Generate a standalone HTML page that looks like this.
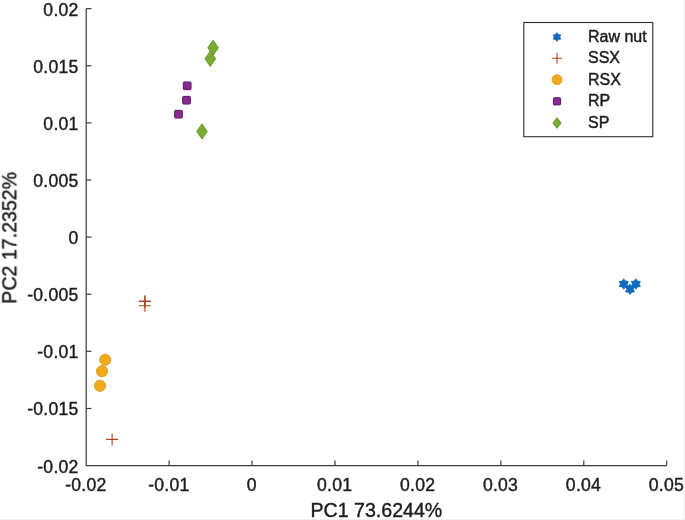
<!DOCTYPE html>
<html><head><meta charset="utf-8"><title>PCA</title>
<style>
html,body{margin:0;padding:0;background:#fff;}
body{width:685px;height:520px;overflow:hidden;position:relative;}
svg{position:absolute;left:0;top:0;display:block;}
text{font-family:"Liberation Sans",Arial,Helvetica,sans-serif;fill:#1c1c1c;stroke:#1c1c1c;stroke-width:0.4px;}
.tk{font-size:17.6px;letter-spacing:0.25px;}
.lb{font-size:19.6px;}
.lg{font-size:16px;stroke-width:0.45px;}
</style></head><body>
<svg width="685" height="520" viewBox="0 0 685 520">
<rect x="0" y="0" width="685" height="520" fill="#ffffff"/>
<defs><filter id="soft" x="-5%" y="-5%" width="110%" height="110%"><feGaussianBlur stdDeviation="0.38"/></filter></defs>
<rect x="683.6" y="0" width="1.4" height="520" fill="#f1f1f1"/>
<rect x="0" y="519" width="685" height="1" fill="#f0f0f0"/>

<g filter="url(#soft)">
<g stroke="#3a3a3a" stroke-width="1.2" fill="none">
<path d="M86.2 8.6 V465.6 H666.7"/>
<path d="M86.2 8.60 h5.2"/>
<path d="M86.2 65.72 h5.2"/>
<path d="M86.2 122.85 h5.2"/>
<path d="M86.2 179.97 h5.2"/>
<path d="M86.2 237.10 h5.2"/>
<path d="M86.2 294.23 h5.2"/>
<path d="M86.2 351.35 h5.2"/>
<path d="M86.2 408.48 h5.2"/>
<path d="M169.13 465.6 v-5.2"/>
<path d="M252.06 465.6 v-5.2"/>
<path d="M334.99 465.6 v-5.2"/>
<path d="M417.91 465.6 v-5.2"/>
<path d="M500.84 465.6 v-5.2"/>
<path d="M583.77 465.6 v-5.2"/>
<path d="M666.70 465.6 v-5.2"/>
</g>
<text class="tk" x="78.6" y="15.60" text-anchor="end">0.02</text>
<text class="tk" x="78.6" y="72.72" text-anchor="end">0.015</text>
<text class="tk" x="78.6" y="129.85" text-anchor="end">0.01</text>
<text class="tk" x="78.6" y="186.97" text-anchor="end">0.005</text>
<text class="tk" x="78.6" y="244.10" text-anchor="end">0</text>
<text class="tk" x="78.6" y="301.23" text-anchor="end">-0.005</text>
<text class="tk" x="78.6" y="358.35" text-anchor="end">-0.01</text>
<text class="tk" x="78.6" y="415.48" text-anchor="end">-0.015</text>
<text class="tk" x="78.6" y="472.60" text-anchor="end">-0.02</text>
<text class="tk" x="85.90" y="490.6" text-anchor="middle">-0.02</text>
<text class="tk" x="168.83" y="490.6" text-anchor="middle">-0.01</text>
<text class="tk" x="251.76" y="490.6" text-anchor="middle">0</text>
<text class="tk" x="334.69" y="490.6" text-anchor="middle">0.01</text>
<text class="tk" x="417.61" y="490.6" text-anchor="middle">0.02</text>
<text class="tk" x="500.54" y="490.6" text-anchor="middle">0.03</text>
<text class="tk" x="583.47" y="490.6" text-anchor="middle">0.04</text>
<text class="tk" x="666.40" y="490.6" text-anchor="middle">0.05</text>
<text class="lb" x="376.4" y="517.2" text-anchor="middle">PC1 73.6244%</text>
<text class="lb" transform="translate(16.3 237.8) rotate(-90)" text-anchor="middle">PC2 17.2352%</text>
<polygon points="623.75,278.70 622.05,281.06 619.16,281.35 620.36,284.00 619.16,286.65 622.05,286.94 623.75,289.30 625.45,286.94 628.34,286.65 627.14,284.00 628.34,281.35 625.45,281.06" fill="#106cc2" stroke="#0b5eae" stroke-width="0.6"/>
<polygon points="635.80,278.70 634.10,281.06 631.21,281.35 632.41,284.00 631.21,286.65 634.10,286.94 635.80,289.30 637.50,286.94 640.39,286.65 639.19,284.00 640.39,281.35 637.50,281.06" fill="#106cc2" stroke="#0b5eae" stroke-width="0.6"/>
<polygon points="630.00,284.00 628.30,286.36 625.41,286.65 626.61,289.30 625.41,291.95 628.30,292.24 630.00,294.60 631.70,292.24 634.59,291.95 633.39,289.30 634.59,286.65 631.70,286.36" fill="#106cc2" stroke="#0b5eae" stroke-width="0.6"/>
<path d="M138.90 301.40 h12 M144.90 295.40 v12" stroke="#a8451f" stroke-width="1.1" fill="none"/>
<path d="M138.90 301.40 h12 M144.90 295.40 v12" stroke="#a8451f" stroke-width="1.1" fill="none"/>
<path d="M138.90 305.80 h12 M144.90 299.80 v12" stroke="#a8451f" stroke-width="1.1" fill="none"/>
<path d="M106.10 439.40 h12 M112.10 433.40 v12" stroke="#a8451f" stroke-width="1.1" fill="none"/>
<circle cx="105.20" cy="359.80" r="5.6" fill="#f2aa1e" stroke="#d6941a" stroke-width="0.8"/>
<circle cx="102.00" cy="371.20" r="5.6" fill="#f2aa1e" stroke="#d6941a" stroke-width="0.8"/>
<circle cx="100.00" cy="385.80" r="5.6" fill="#f2aa1e" stroke="#d6941a" stroke-width="0.8"/>
<rect x="183.35" y="81.95" width="7.7" height="7.7" rx="0.8" fill="#8a2a90" stroke="#5f1667" stroke-width="1"/>
<rect x="182.65" y="96.35" width="7.7" height="7.7" rx="0.8" fill="#8a2a90" stroke="#5f1667" stroke-width="1"/>
<rect x="174.65" y="110.35" width="7.7" height="7.7" rx="0.8" fill="#8a2a90" stroke="#5f1667" stroke-width="1"/>
<polygon points="213.10,40.20 218.50,47.80 213.10,55.40 207.70,47.80" fill="#78ad31" stroke="#5a8c20" stroke-width="0.8"/>
<polygon points="210.30,51.20 215.70,58.80 210.30,66.40 204.90,58.80" fill="#78ad31" stroke="#5a8c20" stroke-width="0.8"/>
<polygon points="202.00,123.90 207.40,131.50 202.00,139.10 196.60,131.50" fill="#78ad31" stroke="#5a8c20" stroke-width="0.8"/>
<rect x="523.8" y="22.5" width="129.0" height="114.2" fill="#fff" stroke="#2e2e2e" stroke-width="1.1"/>
<polygon points="557.00,32.60 555.59,34.56 553.19,34.80 554.18,37.00 553.19,39.20 555.59,39.44 557.00,41.40 558.41,39.44 560.81,39.20 559.82,37.00 560.81,34.80 558.41,34.56" fill="#106cc2" stroke="#0b5eae" stroke-width="0.6"/>
<path d="M551.80 58.20 h10.4 M557.00 53.00 v10.4" stroke="#a8451f" stroke-width="1.1" fill="none"/>
<circle cx="557.00" cy="79.70" r="5.0" fill="#f2aa1e" stroke="#d6941a" stroke-width="0.8"/>
<rect x="553.40" y="97.70" width="7.2" height="7.2" rx="0.8" fill="#8a2a90" stroke="#5f1667" stroke-width="1"/>
<polygon points="557.00,117.60 561.20,123.00 557.00,128.40 552.80,123.00" fill="#78ad31" stroke="#5a8c20" stroke-width="0.8"/>
<text class="lg" x="588" y="41.90">Raw nut</text>
<text class="lg" x="588" y="63.10">SSX</text>
<text class="lg" x="588" y="84.60">RSX</text>
<text class="lg" x="588" y="106.20">RP</text>
<text class="lg" x="588" y="127.90">SP</text>
</g>
</svg></body></html>
